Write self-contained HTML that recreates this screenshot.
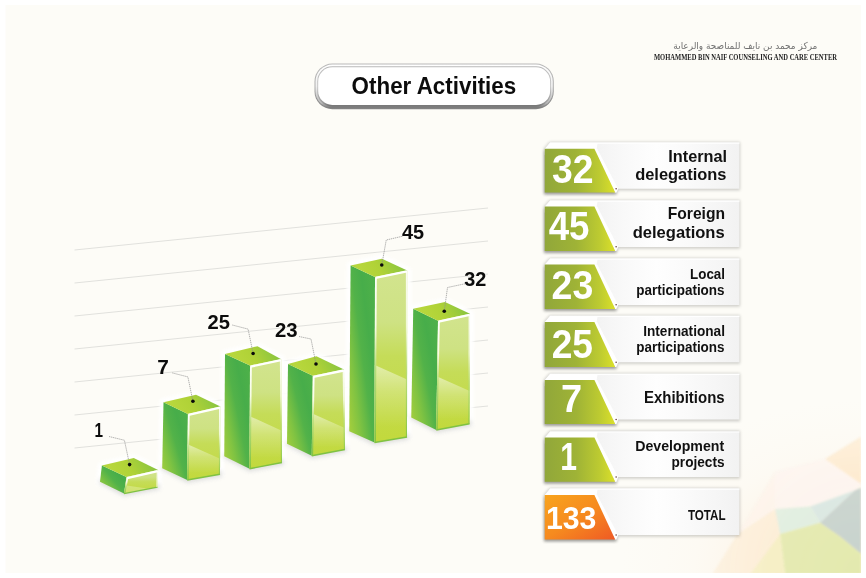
<!DOCTYPE html>
<html lang="en">
<head>
<meta charset="utf-8">
<title>Other Activities</title>
<style>
html,body{margin:0;padding:0;background:#ffffff;}
body{width:866px;height:578px;overflow:hidden;position:relative;}
svg{display:block;position:absolute;left:0;top:0;}
text{font-family:"Liberation Sans",sans-serif;font-weight:bold;fill:#0c0c0c;}
.num{fill:#ffffff;}
.rl{fill:#111111;}
.ar{font-family:"DejaVu Sans","Liberation Sans",sans-serif;font-weight:normal;fill:#707070;}
.en{font-family:"Liberation Serif",serif;font-weight:bold;fill:#222222;}
</style>
</head>
<body>
<svg width="866" height="578" viewBox="0 0 866 578">
<defs>
<linearGradient id="gLeft" x1="1" y1="0.05" x2="0" y2="0.95">
  <stop offset="0" stop-color="#4fb149"/><stop offset="0.3" stop-color="#47ad4a"/><stop offset="0.5" stop-color="#52b249"/><stop offset="0.75" stop-color="#80c342"/><stop offset="1" stop-color="#a6cf3c"/>
</linearGradient>
<linearGradient id="gRight" x1="0" y1="0" x2="0" y2="1">
  <stop offset="0" stop-color="#d2e48e"/><stop offset="0.3" stop-color="#cee283"/><stop offset="0.5" stop-color="#c5dc58"/><stop offset="1" stop-color="#c2d93c"/>
</linearGradient>
<linearGradient id="gTop" x1="0" y1="0.6" x2="1" y2="0.4">
  <stop offset="0" stop-color="#a5cf3c"/><stop offset="0.15" stop-color="#b8d73d"/><stop offset="0.5" stop-color="#b0d237"/><stop offset="1" stop-color="#84c341"/>
</linearGradient>
<linearGradient id="gGloss" x1="0" y1="0" x2="0" y2="1">
  <stop offset="0" stop-color="#ffffff" stop-opacity="0.5"/><stop offset="0.35" stop-color="#ffffff" stop-opacity="0.22"/><stop offset="0.8" stop-color="#ffffff" stop-opacity="0.0"/>
</linearGradient>
<filter id="blur2" x="-20%" y="-50%" width="140%" height="200%"><feGaussianBlur stdDeviation="2"/></filter>
<filter id="halo" x="-30%" y="-30%" width="160%" height="160%"><feGaussianBlur stdDeviation="1.6"/></filter><linearGradient id="ge1" gradientUnits="userSpaceOnUse" x1="126.5" y1="477.1" x2="124" y2="493.6"><stop offset="0" stop-color="#ffffff"/><stop offset="0.3" stop-color="#f6fce6"/><stop offset="0.55" stop-color="#b9de7c"/><stop offset="1" stop-color="#7fc242"/></linearGradient><linearGradient id="ge7" gradientUnits="userSpaceOnUse" x1="187.9" y1="413.9" x2="187.2" y2="480"><stop offset="0" stop-color="#ffffff"/><stop offset="0.3" stop-color="#f6fce6"/><stop offset="0.55" stop-color="#b9de7c"/><stop offset="1" stop-color="#7fc242"/></linearGradient><linearGradient id="ge25" gradientUnits="userSpaceOnUse" x1="250" y1="365.6" x2="249.5" y2="468.75"><stop offset="0" stop-color="#ffffff"/><stop offset="0.3" stop-color="#f6fce6"/><stop offset="0.55" stop-color="#b9de7c"/><stop offset="1" stop-color="#7fc242"/></linearGradient><linearGradient id="ge23" gradientUnits="userSpaceOnUse" x1="312.8" y1="375.8" x2="311.75" y2="455.75"><stop offset="0" stop-color="#ffffff"/><stop offset="0.3" stop-color="#f6fce6"/><stop offset="0.55" stop-color="#b9de7c"/><stop offset="1" stop-color="#7fc242"/></linearGradient><linearGradient id="ge45" gradientUnits="userSpaceOnUse" x1="375" y1="276.9" x2="374.5" y2="442.5"><stop offset="0" stop-color="#ffffff"/><stop offset="0.3" stop-color="#f6fce6"/><stop offset="0.55" stop-color="#b9de7c"/><stop offset="1" stop-color="#7fc242"/></linearGradient><linearGradient id="ge32" gradientUnits="userSpaceOnUse" x1="438" y1="320.7" x2="436.25" y2="430"><stop offset="0" stop-color="#ffffff"/><stop offset="0.3" stop-color="#f6fce6"/><stop offset="0.55" stop-color="#b9de7c"/><stop offset="1" stop-color="#7fc242"/></linearGradient>
<linearGradient id="gPillA" x1="0" y1="0" x2="0" y2="1">
  <stop offset="0" stop-color="#b9b9b9"/><stop offset="0.5" stop-color="#adadad"/><stop offset="0.85" stop-color="#8a8a8a"/><stop offset="1" stop-color="#868686"/>
</linearGradient>
<linearGradient id="gPillB" x1="0" y1="0" x2="0" y2="1">
  <stop offset="0" stop-color="#ffffff"/><stop offset="0.5" stop-color="#f0f0f0"/><stop offset="0.88" stop-color="#b8b8b8"/><stop offset="1" stop-color="#747474"/>
</linearGradient>
<linearGradient id="gPillC" x1="0" y1="0" x2="0" y2="1">
  <stop offset="0" stop-color="#b9b9b9"/><stop offset="0.5" stop-color="#c6c6c6"/><stop offset="0.9" stop-color="#9a9a9a"/><stop offset="1" stop-color="#6e6e6e"/>
</linearGradient>

<linearGradient id="gGreen" x1="0" y1="0" x2="1" y2="0">
  <stop offset="0" stop-color="#91a73a"/><stop offset="0.45" stop-color="#9fb336"/><stop offset="0.78" stop-color="#bdcb31"/><stop offset="1" stop-color="#dbe02a"/>
</linearGradient>
<linearGradient id="gOrange" x1="0" y1="0" x2="1" y2="1">
  <stop offset="0" stop-color="#f8a41e"/><stop offset="0.5" stop-color="#f68a1f"/><stop offset="1" stop-color="#ef5a24"/>
</linearGradient>
<linearGradient id="gPanel" gradientUnits="userSpaceOnUse" x1="596" y1="0" x2="739.4" y2="0">
  <stop offset="0" stop-color="#f3f3f3"/><stop offset="0.2" stop-color="#f9f9f9"/><stop offset="0.42" stop-color="#fefefe"/><stop offset="0.65" stop-color="#fafafa"/><stop offset="1" stop-color="#f2f2f2"/>
</linearGradient>
<filter id="pshadow" x="-10%" y="-30%" width="120%" height="170%"><feGaussianBlur stdDeviation="1.7"/></filter>

<radialGradient id="gFade" gradientUnits="userSpaceOnUse" cx="861" cy="573" r="260">
  <stop offset="0" stop-color="#fff" stop-opacity="1"/><stop offset="0.35" stop-color="#fff" stop-opacity="0.9"/><stop offset="0.65" stop-color="#fff" stop-opacity="0.45"/><stop offset="1" stop-color="#fff" stop-opacity="0"/>
</radialGradient>
<radialGradient id="gGlow" gradientUnits="userSpaceOnUse" cx="861" cy="573" r="240" gradientTransform="translate(861,573) scale(1,0.72) translate(-861,-573)">
  <stop offset="0" stop-color="#fdeed6" stop-opacity="1"/><stop offset="0.4" stop-color="#fdf0de" stop-opacity="0.7"/><stop offset="0.7" stop-color="#fdf3e6" stop-opacity="0.22"/><stop offset="1" stop-color="#fdf6ea" stop-opacity="0"/>
</radialGradient>
<mask id="mFade" maskUnits="userSpaceOnUse" x="540" y="250" width="321" height="323">
  <rect x="540" y="250" width="321" height="323" fill="url(#gFade)"/>
</mask>
<filter id="pblur" x="-5%" y="-5%" width="110%" height="110%"><feGaussianBlur stdDeviation="1.0"/></filter>
<clipPath id="cContent"><rect x="5.5" y="5" width="855.5" height="568"/></clipPath>
</defs>
<rect x="0" y="0" width="866" height="578" fill="#ffffff"/>
<rect x="5.5" y="5" width="855.5" height="568" fill="#fdfcf7"/>
<g clip-path="url(#cContent)"><rect x="530" y="240" width="331" height="333" fill="url(#gGlow)"/><g mask="url(#mFade)"><g filter="url(#pblur)"><polygon points="775.00,471.50 825.00,459.00 861.25,484.00 855.00,490.25 810.00,506.50 775.00,509.00" fill="#fdf4ef"/><polygon points="810.00,506.50 855.00,490.25 820.00,522.75" fill="#d9e7e2"/><polygon points="820.00,522.75 855.00,490.25 861.25,487.75 861.25,554.00 840.00,536.50" fill="#c7d2cd"/><polygon points="775.00,509.00 810.00,506.50 820.00,522.75 780.00,534.00" fill="#dfeee0"/><polygon points="780.00,534.00 820.00,522.75 840.00,536.50 861.25,554.00 861.25,574.00 785.00,574.00" fill="#e3e9ae"/><polygon points="750.00,574.00 780.00,534.00 785.00,574.00" fill="#f5eec2"/><polygon points="737.50,534.00 775.00,509.00 780.00,534.00 750.00,574.00 712.50,574.00" fill="#fcedd6"/><polygon points="737.50,534.00 775.00,471.50 775.00,509.00" fill="#fdf3ea"/><polygon points="825.00,459.00 861.25,436.50 861.25,484.00" fill="#fde9cc"/></g></g></g>
<g><line x1="74.5" y1="250" x2="488" y2="208.0" stroke="#e1e1dd" stroke-width="1"/><line x1="74.5" y1="283" x2="488" y2="241.0" stroke="#e1e1dd" stroke-width="1"/><line x1="74.5" y1="316" x2="488" y2="274.0" stroke="#e1e1dd" stroke-width="1"/><line x1="74.5" y1="349" x2="488" y2="307.0" stroke="#e1e1dd" stroke-width="1"/><line x1="74.5" y1="382" x2="488" y2="340.0" stroke="#e1e1dd" stroke-width="1"/><line x1="74.5" y1="415" x2="488" y2="373.0" stroke="#e1e1dd" stroke-width="1"/><line x1="74.5" y1="448" x2="488" y2="406.0" stroke="#e1e1dd" stroke-width="1"/></g>
<g><polygon points="101.90,465.60 133.75,458.10 158.10,470.10 157.50,487.10 124.00,493.60 100.00,481.80" fill="#ffffff" stroke="#ffffff" stroke-width="8" stroke-linejoin="round" filter="url(#halo)" opacity="0.95"/><polygon points="163.50,402.25 196.00,394.75 220.40,406.60 220.00,474.20 187.20,480.00 162.20,468.20" fill="#ffffff" stroke="#ffffff" stroke-width="8" stroke-linejoin="round" filter="url(#halo)" opacity="0.95"/><polygon points="225.00,353.90 257.50,346.25 281.25,359.20 282.00,462.50 249.50,468.75 224.25,456.25" fill="#ffffff" stroke="#ffffff" stroke-width="8" stroke-linejoin="round" filter="url(#halo)" opacity="0.95"/><polygon points="288.00,364.00 316.40,356.30 344.00,369.50 345.00,449.50 311.75,455.75 287.00,443.75" fill="#ffffff" stroke="#ffffff" stroke-width="8" stroke-linejoin="round" filter="url(#halo)" opacity="0.95"/><polygon points="350.60,265.40 381.90,258.75 407.25,270.40 407.00,437.00 374.50,442.50 349.25,431.25" fill="#ffffff" stroke="#ffffff" stroke-width="8" stroke-linejoin="round" filter="url(#halo)" opacity="0.95"/><polygon points="413.25,308.70 445.00,301.90 470.00,313.80 469.50,423.75 436.25,430.00 411.25,417.50" fill="#ffffff" stroke="#ffffff" stroke-width="8" stroke-linejoin="round" filter="url(#halo)" opacity="0.95"/></g>
<g><polygon points="99.00,483.30 124.00,496.60 159.50,489.60 159.50,484.10 100.00,478.80" fill="#9a9a90" opacity="0.32" filter="url(#blur2)"/><polygon points="161.20,469.70 187.20,483.00 222.00,476.70 222.00,471.20 162.20,465.20" fill="#9a9a90" opacity="0.32" filter="url(#blur2)"/><polygon points="223.25,457.75 249.50,471.75 284.00,465.00 284.00,459.50 224.25,453.25" fill="#9a9a90" opacity="0.32" filter="url(#blur2)"/><polygon points="286.00,445.25 311.75,458.75 347.00,452.00 347.00,446.50 287.00,440.75" fill="#9a9a90" opacity="0.32" filter="url(#blur2)"/><polygon points="348.25,432.75 374.50,445.50 409.00,439.50 409.00,434.00 349.25,428.25" fill="#9a9a90" opacity="0.32" filter="url(#blur2)"/><polygon points="410.25,419.00 436.25,433.00 471.50,426.25 471.50,420.75 411.25,414.50" fill="#9a9a90" opacity="0.32" filter="url(#blur2)"/></g>
<g><polygon points="101.90,465.60 126.50,477.10 124.00,493.60 100.00,481.80" fill="url(#gLeft)"/><polygon points="126.50,477.10 158.10,470.10 157.50,487.10 124.00,493.60" fill="url(#gRight)"/><polygon points="125.25,485.35 148.95,488.73 124.00,493.60" fill="#ffffff" opacity="0.25"/><polyline points="157.50,487.10 124.00,493.60" fill="none" stroke="#7fc242" stroke-width="1.4"/><polygon points="156.70,470.90 158.10,470.50 157.50,487.10 156.40,487.30" fill="url(#ge1)" opacity="0.85"/><polygon points="101.90,465.60 133.75,458.10 158.10,470.10 126.50,477.10" fill="url(#gTop)"/><polyline points="127.10,478.10 157.80,471.10" fill="none" stroke="#ffffff" stroke-width="2.3"/><polygon points="126.60,477.70 128.30,477.70 125.40,493.00 124.10,493.30" fill="url(#ge1)"/><polyline points="109.00,436.50 124.40,440.25 129.60,464.60" fill="none" stroke="#8f8f8f" stroke-width="0.7" stroke-dasharray="1.4 0.7"/><circle cx="129.6" cy="464.6" r="1.8" fill="#0a0a0a"/><text transform="translate(94.49,437.20) scale(0.7800,1)" class="lbl" font-size="19.6" >1</text></g>
<g><polygon points="163.50,402.25 187.90,413.90 187.20,480.00 162.20,468.20" fill="url(#gLeft)"/><polygon points="187.90,413.90 220.40,406.60 220.00,474.20 187.20,480.00" fill="url(#gRight)"/><polygon points="187.58,444.31 220.09,458.81 220.00,474.20 187.20,480.00" fill="url(#gGloss)"/><polyline points="220.00,474.20 187.20,480.00" fill="none" stroke="#7fc242" stroke-width="1.4"/><polygon points="219.00,407.40 220.40,407.00 220.00,474.20 218.90,474.40" fill="url(#ge7)" opacity="0.85"/><polygon points="163.50,402.25 196.00,394.75 220.40,406.60 187.90,413.90" fill="url(#gTop)"/><polyline points="188.50,414.90 220.10,407.60" fill="none" stroke="#ffffff" stroke-width="2.3"/><polygon points="188.00,414.50 189.70,414.50 188.60,479.40 187.30,479.70" fill="url(#ge7)"/><polyline points="172.25,372.90 187.90,376.90 192.90,401.25" fill="none" stroke="#8f8f8f" stroke-width="0.7" stroke-dasharray="1.4 0.7"/><circle cx="192.9" cy="401.25" r="1.8" fill="#0a0a0a"/><text transform="translate(157.27,373.50) scale(1.0629,1)" class="lbl" font-size="19.6" >7</text></g>
<g><polygon points="225.00,353.90 250.00,365.60 249.50,468.75 224.25,456.25" fill="url(#gLeft)"/><polygon points="250.00,365.60 281.25,359.20 282.00,462.50 249.50,468.75" fill="url(#gRight)"/><polygon points="249.75,416.14 281.77,430.64 282.00,462.50 249.50,468.75" fill="url(#gGloss)"/><polyline points="282.00,462.50 249.50,468.75" fill="none" stroke="#7fc242" stroke-width="1.4"/><polygon points="279.85,360.00 281.25,359.60 282.00,462.50 280.90,462.70" fill="url(#ge25)" opacity="0.85"/><polygon points="225.00,353.90 257.50,346.25 281.25,359.20 250.00,365.60" fill="url(#gTop)"/><polyline points="250.60,366.60 280.95,360.20" fill="none" stroke="#ffffff" stroke-width="2.3"/><polygon points="250.10,366.20 251.80,366.20 250.90,468.15 249.60,468.45" fill="url(#ge25)"/><polyline points="232.25,325.00 248.10,329.10 253.10,353.50" fill="none" stroke="#8f8f8f" stroke-width="0.7" stroke-dasharray="1.4 0.7"/><circle cx="253.1" cy="353.5" r="1.8" fill="#0a0a0a"/><text transform="translate(207.49,329.40) scale(1.0290,1)" class="lbl" font-size="19.6" >25</text></g>
<g><polygon points="288.00,364.00 312.80,375.80 311.75,455.75 287.00,443.75" fill="url(#gLeft)"/><polygon points="312.80,375.80 344.00,369.50 345.00,449.50 311.75,455.75" fill="url(#gRight)"/><polygon points="312.31,413.38 344.73,427.88 345.00,449.50 311.75,455.75" fill="url(#gGloss)"/><polyline points="345.00,449.50 311.75,455.75" fill="none" stroke="#7fc242" stroke-width="1.4"/><polygon points="342.60,370.30 344.00,369.90 345.00,449.50 343.90,449.70" fill="url(#ge23)" opacity="0.85"/><polygon points="288.00,364.00 316.40,356.30 344.00,369.50 312.80,375.80" fill="url(#gTop)"/><polyline points="313.40,376.80 343.70,370.50" fill="none" stroke="#ffffff" stroke-width="2.3"/><polygon points="312.90,376.40 314.60,376.40 313.15,455.15 311.85,455.45" fill="url(#ge23)"/><polyline points="299.00,336.50 311.00,339.00 316.00,364.00" fill="none" stroke="#8f8f8f" stroke-width="0.7" stroke-dasharray="1.4 0.7"/><circle cx="316" cy="364" r="1.8" fill="#0a0a0a"/><text transform="translate(274.99,337.25) scale(1.0388,1)" class="lbl" font-size="19.6" >23</text></g>
<g><polygon points="350.60,265.40 375.00,276.90 374.50,442.50 349.25,431.25" fill="url(#gLeft)"/><polygon points="375.00,276.90 407.25,270.40 407.00,437.00 374.50,442.50" fill="url(#gRight)"/><polygon points="374.73,365.00 407.09,379.50 407.00,437.00 374.50,442.50" fill="url(#gGloss)"/><polyline points="407.00,437.00 374.50,442.50" fill="none" stroke="#7fc242" stroke-width="1.4"/><polygon points="405.85,271.20 407.25,270.80 407.00,437.00 405.90,437.20" fill="url(#ge45)" opacity="0.85"/><polygon points="350.60,265.40 381.90,258.75 407.25,270.40 375.00,276.90" fill="url(#gTop)"/><polyline points="375.60,277.90 406.95,271.40" fill="none" stroke="#ffffff" stroke-width="2.3"/><polygon points="375.10,277.50 376.80,277.50 375.90,441.90 374.60,442.20" fill="url(#ge45)"/><polyline points="402.50,236.25 386.25,240.00 381.75,265.00" fill="none" stroke="#8f8f8f" stroke-width="0.7" stroke-dasharray="1.4 0.7"/><circle cx="381.75" cy="265" r="1.8" fill="#0a0a0a"/><text transform="translate(401.90,238.80) scale(1.0146,1)" class="lbl" font-size="19.6" >45</text></g>
<g><polygon points="413.25,308.70 438.00,320.70 436.25,430.00 411.25,417.50" fill="url(#gLeft)"/><polygon points="438.00,320.70 470.00,313.80 469.50,423.75 436.25,430.00" fill="url(#gRight)"/><polygon points="437.11,376.44 469.65,390.94 469.50,423.75 436.25,430.00" fill="url(#gGloss)"/><polyline points="469.50,423.75 436.25,430.00" fill="none" stroke="#7fc242" stroke-width="1.4"/><polygon points="468.60,314.60 470.00,314.20 469.50,423.75 468.40,423.95" fill="url(#ge32)" opacity="0.85"/><polygon points="413.25,308.70 445.00,301.90 470.00,313.80 438.00,320.70" fill="url(#gTop)"/><polyline points="438.60,321.70 469.70,314.80" fill="none" stroke="#ffffff" stroke-width="2.3"/><polygon points="438.10,321.30 439.80,321.30 437.65,429.40 436.35,429.70" fill="url(#ge32)"/><polyline points="465.00,283.75 447.50,287.50 444.25,311.25" fill="none" stroke="#8f8f8f" stroke-width="0.7" stroke-dasharray="1.4 0.7"/><circle cx="444.25" cy="311.25" r="1.8" fill="#0a0a0a"/><text transform="translate(464.20,285.90) scale(1.0145,1)" class="lbl" font-size="19.6" >32</text></g>
<rect x="314.50" y="63.60" width="239.30" height="45.60" rx="17.80" ry="17.80" fill="url(#gPillA)"/>
<rect x="315.50" y="64.60" width="237.30" height="43.60" rx="16.80" ry="16.80" fill="url(#gPillB)"/>
<rect x="317.20" y="66.30" width="233.90" height="40.20" rx="15.10" ry="15.10" fill="url(#gPillC)"/>
<rect x="318.20" y="67.30" width="231.90" height="37.70" rx="14.10" ry="14.10" fill="#ffffff"/>
<text transform="translate(351.60,93.60) scale(0.9610,1)" class="title" font-size="23.3" >Other Activities</text>
<text transform="translate(673.37,49.30) scale(0.9331,1)" class="ar" font-size="9.6" >مركز محمد بن نايف للمناصحة والرعاية</text>
<text transform="translate(653.93,59.80) scale(0.8857,1)" class="en" font-size="7.4" >MOHAMMED BIN NAIF COUNSELING AND CARE CENTER</text>
<g><polygon points="543.95,148.45 549.80,141.90 740.00,141.90 740.00,190.35 618.20,190.35 616.80,194.30 543.95,194.30" fill="#4a4a45" opacity="0.27" filter="url(#pshadow)"/><polygon points="544.15,150.75 600.00,150.75 616.60,194.30 544.15,194.30" fill="#4a4a45" opacity="0.4" filter="url(#pshadow)"/><polygon points="550.20,142.50 739.40,142.50 739.40,188.75 612.00,188.75 544.75,154.75 544.75,148.75" fill="url(#gPanel)"/><polygon points="544.75,149.05 550.20,142.50 739.40,142.50 739.40,143.70 597.50,143.70 596.60,149.05" fill="#ffffff"/><polygon points="594.00,148.75 597.20,148.75 618.20,188.75 616.40,192.70 614.80,192.50" fill="#ffffff"/><polygon points="544.75,148.75 594.40,148.75 615.20,192.50 544.75,192.50" fill="url(#gGreen)"/><circle cx="616.1" cy="188.65" r="0.75" fill="#5a3434"/><text transform="translate(552.00,183.05) scale(0.9219,1)" class="num" font-size="40.57" >32</text><text transform="translate(668.22,161.75) scale(1.0384,1)" class="rl" font-size="15.7" >Internal</text><text transform="translate(635.19,179.90) scale(1.0477,1)" class="rl" font-size="15.7" >delegations</text></g>
<g><polygon points="543.95,206.20 549.80,200.00 740.00,200.00 740.00,248.50 618.20,248.50 616.80,252.70 543.95,252.70" fill="#4a4a45" opacity="0.27" filter="url(#pshadow)"/><polygon points="544.15,208.50 600.00,208.50 616.60,252.70 544.15,252.70" fill="#4a4a45" opacity="0.4" filter="url(#pshadow)"/><polygon points="550.20,200.60 739.40,200.60 739.40,246.90 612.00,246.90 544.75,212.50 544.75,206.50" fill="url(#gPanel)"/><polygon points="544.75,206.80 550.20,200.60 739.40,200.60 739.40,201.80 597.50,201.80 596.60,206.80" fill="#ffffff"/><polygon points="594.00,206.50 597.20,206.50 618.20,246.90 616.40,251.10 614.80,250.90" fill="#ffffff"/><polygon points="544.75,206.50 594.40,206.50 615.20,250.90 544.75,250.90" fill="url(#gGreen)"/><circle cx="616.1" cy="246.80" r="0.75" fill="#5a3434"/><text transform="translate(548.63,239.55) scale(0.9097,1)" class="num" font-size="40.35" >45</text><text transform="translate(667.66,219.10) scale(0.9979,1)" class="rl" font-size="15.7" >Foreign</text><text transform="translate(632.69,237.90) scale(1.0553,1)" class="rl" font-size="15.7" >delegations</text></g>
<g><polygon points="543.95,264.20 549.80,258.00 740.00,258.00 740.00,306.50 618.20,306.50 616.80,310.70 543.95,310.70" fill="#4a4a45" opacity="0.27" filter="url(#pshadow)"/><polygon points="544.15,266.50 600.00,266.50 616.60,310.70 544.15,310.70" fill="#4a4a45" opacity="0.4" filter="url(#pshadow)"/><polygon points="550.20,258.60 739.40,258.60 739.40,304.90 612.00,304.90 544.75,270.50 544.75,264.50" fill="url(#gPanel)"/><polygon points="544.75,264.80 550.20,258.60 739.40,258.60 739.40,259.80 597.50,259.80 596.60,264.80" fill="#ffffff"/><polygon points="594.00,264.50 597.20,264.50 618.20,304.90 616.40,309.10 614.80,308.90" fill="#ffffff"/><polygon points="544.75,264.50 594.40,264.50 615.20,308.90 544.75,308.90" fill="url(#gGreen)"/><circle cx="616.1" cy="304.80" r="0.75" fill="#5a3434"/><text transform="translate(551.62,298.55) scale(0.9298,1)" class="num" font-size="40.35" >23</text><text transform="translate(690.05,279.00) scale(0.9441,1)" class="rl" font-size="14.2" >Local</text><text transform="translate(636.29,294.60) scale(0.9489,1)" class="rl" font-size="14.2" >participations</text></g>
<g><polygon points="543.95,321.70 549.80,315.15 740.00,315.15 740.00,363.85 618.20,363.85 616.80,368.70 543.95,368.70" fill="#4a4a45" opacity="0.27" filter="url(#pshadow)"/><polygon points="544.15,324.00 600.00,324.00 616.60,368.70 544.15,368.70" fill="#4a4a45" opacity="0.4" filter="url(#pshadow)"/><polygon points="550.20,315.75 739.40,315.75 739.40,362.25 612.00,362.25 544.75,328.00 544.75,322.00" fill="url(#gPanel)"/><polygon points="544.75,322.30 550.20,315.75 739.40,315.75 739.40,316.95 597.50,316.95 596.60,322.30" fill="#ffffff"/><polygon points="594.00,322.00 597.20,322.00 618.20,362.25 616.40,367.10 614.80,366.90" fill="#ffffff"/><polygon points="544.75,322.00 594.40,322.00 615.20,366.90 544.75,366.90" fill="url(#gGreen)"/><circle cx="616.1" cy="362.15" r="0.75" fill="#5a3434"/><text transform="translate(551.64,358.05) scale(0.9291,1)" class="num" font-size="40.0" >25</text><text transform="translate(643.18,335.60) scale(0.9611,1)" class="rl" font-size="14.2" >International</text><text transform="translate(636.29,351.60) scale(0.9489,1)" class="rl" font-size="14.2" >participations</text></g>
<g><polygon points="543.95,379.70 549.80,373.15 740.00,373.15 740.00,421.20 618.20,421.20 616.80,425.80 543.95,425.80" fill="#4a4a45" opacity="0.27" filter="url(#pshadow)"/><polygon points="544.15,382.00 600.00,382.00 616.60,425.80 544.15,425.80" fill="#4a4a45" opacity="0.4" filter="url(#pshadow)"/><polygon points="550.20,373.75 739.40,373.75 739.40,419.60 612.00,419.60 544.75,386.00 544.75,380.00" fill="url(#gPanel)"/><polygon points="544.75,380.30 550.20,373.75 739.40,373.75 739.40,374.95 597.50,374.95 596.60,380.30" fill="#ffffff"/><polygon points="594.00,380.00 597.20,380.00 618.20,419.60 616.40,424.20 614.80,424.00" fill="#ffffff"/><polygon points="544.75,380.00 594.40,380.00 615.20,424.00 544.75,424.00" fill="url(#gGreen)"/><circle cx="616.1" cy="419.50" r="0.75" fill="#5a3434"/><text transform="translate(560.98,412.30) scale(0.9626,1)" class="num" font-size="39.5" >7</text><text transform="translate(643.95,402.50) scale(0.9543,1)" class="rl" font-size="15.7" >Exhibitions</text></g>
<g><polygon points="543.95,437.30 549.80,430.80 740.00,430.80 740.00,478.60 618.20,478.60 616.80,483.55 543.95,483.55" fill="#4a4a45" opacity="0.27" filter="url(#pshadow)"/><polygon points="544.15,439.60 600.00,439.60 616.60,483.55 544.15,483.55" fill="#4a4a45" opacity="0.4" filter="url(#pshadow)"/><polygon points="550.20,431.40 739.40,431.40 739.40,477.00 612.00,477.00 544.75,443.60 544.75,437.60" fill="url(#gPanel)"/><polygon points="544.75,437.90 550.20,431.40 739.40,431.40 739.40,432.60 597.50,432.60 596.60,437.90" fill="#ffffff"/><polygon points="594.00,437.60 597.20,437.60 618.20,477.00 616.40,481.95 614.80,481.75" fill="#ffffff"/><polygon points="544.75,437.60 594.40,437.60 615.20,481.75 544.75,481.75" fill="url(#gGreen)"/><circle cx="616.1" cy="476.90" r="0.75" fill="#5a3434"/><text transform="translate(560.37,469.65) scale(0.7800,1)" class="num" font-size="38.58" >1</text><text transform="translate(635.25,450.75) scale(0.9975,1)" class="rl" font-size="14.2" >Development</text><text transform="translate(671.53,467.00) scale(0.9615,1)" class="rl" font-size="14.2" >projects</text></g>
<g><polygon points="543.95,494.70 549.80,487.90 740.00,487.90 740.00,536.60 618.20,536.60 616.80,541.20 543.95,541.20" fill="#4a4a45" opacity="0.27" filter="url(#pshadow)"/><polygon points="544.15,497.00 600.00,497.00 616.60,541.20 544.15,541.20" fill="#4a4a45" opacity="0.4" filter="url(#pshadow)"/><polygon points="550.20,488.50 739.40,488.50 739.40,535.00 612.00,535.00 544.75,501.00 544.75,495.00" fill="url(#gPanel)"/><polygon points="544.75,495.30 550.20,488.50 739.40,488.50 739.40,489.70 597.50,489.70 596.60,495.30" fill="#ffffff"/><polygon points="594.00,495.00 597.20,495.00 618.20,535.00 616.40,539.60 614.80,539.40" fill="#ffffff"/><polygon points="544.75,495.00 594.40,495.00 615.20,539.40 544.75,539.40" fill="url(#gOrange)"/><circle cx="616.1" cy="534.90" r="0.75" fill="#5a3434"/><text transform="translate(545.93,528.95) scale(0.9614,1)" class="num" font-size="31.49" >133</text><text transform="translate(687.88,520.25) scale(0.8207,1)" class="rl" font-size="14.2" >TOTAL</text></g>
</svg>
</body>
</html>
